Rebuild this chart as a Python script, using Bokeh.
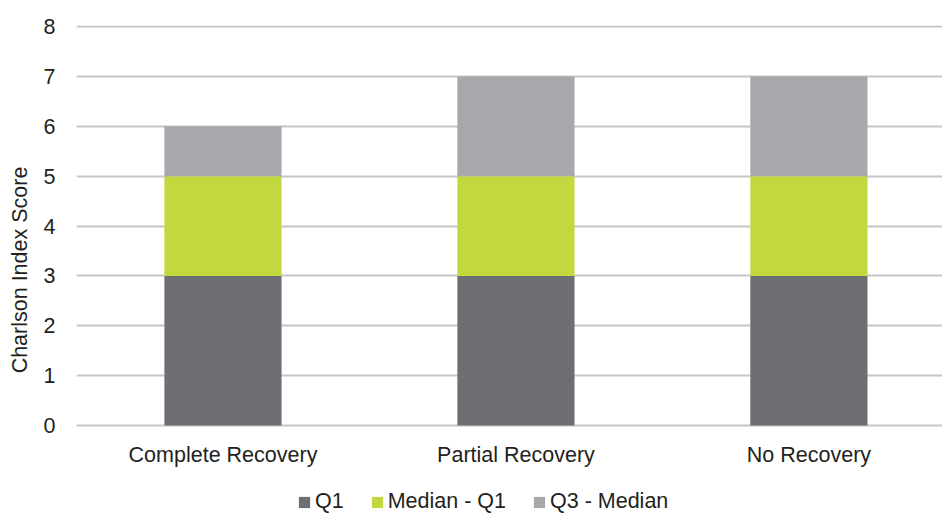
from bokeh.plotting import figure
from bokeh.models import Range1d, FixedTicker, Legend, LegendItem
from bokeh.core.properties import value
from bokeh.embed import file_html
from bokeh.resources import INLINE

categories = ["Complete Recovery", "Partial Recovery", "No Recovery"]
q1 = [3, 3, 3]
median_minus_q1 = [2, 2, 2]
q3_minus_median = [1, 2, 2]
series_names = ["Q1", "Median - Q1", "Q3 - Median"]
colors = ["#6d6e71", "#c2d83e", "#a7a8ab"]
y_ticks = [0, 1, 2, 3, 4, 5, 6, 7, 8]

xs = [i + 0.5 for i in range(len(categories))]
data = {"x": xs, "Q1": q1, "Median - Q1": median_minus_q1, "Q3 - Median": q3_minus_median}

FONT = "Liberation Sans"
FS = "21.5px"
TXT = "#231f20"

p = figure(width=942, height=514, output_backend="svg", toolbar_location=None,
           x_range=Range1d(0, 2.956), y_range=Range1d(-1.784, 8.02),
           min_border_left=76, min_border_right=0, min_border_top=25, min_border_bottom=0)
p.outline_line_color = None
p.background_fill_color = "white"

renderers = p.vbar_stack(series_names, x="x", width=0.4, color=colors, source=data,
                         line_color=None)

# category labels under the bars
p.text(x=xs, y=[-0.6] * len(xs), text=categories, text_align="center",
       text_baseline="middle", text_font=value(FONT), text_font_size=FS, text_color=TXT)

p.xaxis.visible = False
p.xgrid.grid_line_color = None
p.ygrid.grid_line_color = "#c6c6c6"
p.ygrid.grid_line_width = 2
p.ygrid.ticker = FixedTicker(ticks=y_ticks)

p.yaxis.ticker = FixedTicker(ticks=y_ticks)
p.yaxis.axis_line_color = None
p.yaxis.major_tick_line_color = None
p.yaxis.minor_tick_line_color = None
p.yaxis.major_label_text_font = FONT
p.yaxis.major_label_text_font_size = FS
p.yaxis.major_label_text_color = TXT
p.yaxis.major_label_standoff = 15
p.yaxis.axis_label = "Charlson Index Score"
p.yaxis.axis_label_text_font = FONT
p.yaxis.axis_label_text_font_size = FS
p.yaxis.axis_label_text_font_style = "normal"
p.yaxis.axis_label_text_color = TXT
p.yaxis.axis_label_standoff = 9

legend = Legend(items=[LegendItem(label=n, renderers=[r]) for n, r in zip(series_names, renderers)],
                orientation="horizontal", location=(221, 0),
                label_text_font=FONT, label_text_font_size=FS, label_text_color=TXT,
                glyph_width=14, glyph_height=14, spacing=26, label_standoff=4,
                border_line_color=None, background_fill_alpha=0, margin=0, padding=0)
p.add_layout(legend, "center")

open("out.html", "w").write(file_html(p, INLINE))
